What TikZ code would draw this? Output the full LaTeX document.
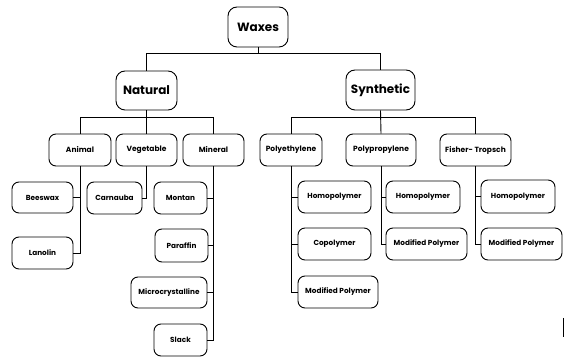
\documentclass[tikz,border=0pt]{standalone}
\usepackage{fontspec}
\setmainfont{Poppins}
\begin{document}
\begin{tikzpicture}[x=1pt,y=-1pt,line width=0.9pt,
  box/.style={draw,rounded corners=7pt,inner sep=0pt,align=center},
  big/.style={box,font=\fontsize{12}{14}\selectfont\bfseries,rounded corners=9pt},
  mid/.style={box,font=\fontsize{7.5}{9}\selectfont\bfseries},
  leaf/.style={box,font=\fontsize{7.3}{9}\selectfont\bfseries}]
\useasboundingbox (0,0) rectangle (566,358);
\node[big,minimum width=60pt,minimum height=40pt] (waxes) at (258,27) {Waxes};
\node[big,minimum width=61pt,minimum height=39pt] (natural) at (146.5,90.5) {Natural};
\node[big,minimum width=69pt,minimum height=40pt] (synthetic) at (380.5,90) {Synthetic};
\node[mid,minimum width=62pt,minimum height=32pt] (animal) at (80,150) {Animal};
\node[mid,minimum width=61pt,minimum height=32pt] (vegetable) at (146.5,150) {Vegetable};
\node[mid,minimum width=61pt,minimum height=32pt] (mineral) at (213.5,150) {Mineral};
\node[mid,minimum width=62pt,minimum height=32pt] (polyeth) at (291,150) {Polyethylene};
\node[mid,minimum width=70pt,minimum height=32pt] (polyprop) at (381,150) {Polypropylene};
\node[mid,minimum width=71pt,minimum height=32pt] (fisher) at (475.5,150) {Fisher- Tropsch};
\node[leaf,minimum width=61pt,minimum height=31pt] (beeswax) at (42.5,197.5) {Beeswax};
\node[leaf,minimum width=61pt,minimum height=32pt] (lanolin) at (42.5,253) {Lanolin};
\node[leaf,minimum width=55pt,minimum height=32pt] (carnauba) at (114.5,198) {Carnauba};
\node[leaf,minimum width=53pt,minimum height=32pt] (montan) at (180.5,198) {Montan};
\node[leaf,minimum width=53pt,minimum height=33pt] (paraffin) at (181.5,245.5) {Paraffin};
\node[leaf,minimum width=76pt,minimum height=31pt] (micro) at (169,292.5) {Microcrystalline};
\node[leaf,minimum width=53pt,minimum height=32pt] (slack) at (180.5,340) {Slack};
\node[leaf,minimum width=73pt,minimum height=32pt] (peh) at (334.5,197) {Homopolymer};
\node[leaf,minimum width=73pt,minimum height=32pt] (pec) at (334.5,244) {Copolymer};
\node[leaf,minimum width=80pt,minimum height=32pt] (pem) at (338,292) {Modified Polymer};
\node[leaf,minimum width=74pt,minimum height=32pt] (pph) at (423,197) {Homopolymer};
\node[leaf,minimum width=81pt,minimum height=32pt] (ppm) at (426.5,244) {Modified Polymer};
\node[leaf,minimum width=74pt,minimum height=33pt] (fth) at (518,196.5) {Homopolymer};
\node[leaf,minimum width=81pt,minimum height=32pt] (ftm) at (521.5,244) {Modified Polymer};
\coordinate (j1) at (0,53);
\coordinate (j2) at (0,117);
% top level
\draw (waxes.south) -- (waxes.south |- j1);
\draw (natural.north) |- (j1 -| synthetic.north) -- (synthetic.north);
% natural
\draw (natural.south) -- (vegetable.north);
\draw (animal.north) |- (j2 -| mineral.north) -- (mineral.north);
% synthetic
\draw (synthetic.south) -- (polyprop.north);
\draw (polyeth.north) |- (j2 -| fisher.north) -- (fisher.north);
% animal
\draw (animal.south) |- (lanolin.east);
\draw (beeswax.east) -- (beeswax.east -| animal.south);
% vegetable
\draw (vegetable.south) |- (carnauba.east);
% mineral
\draw (mineral.south) |- (slack.east);
\draw (montan.east) -- (montan.east -| mineral.south);
\draw (paraffin.east) -- (paraffin.east -| mineral.south);
\draw (micro.east) -- (micro.east -| mineral.south);
% polyethylene
\draw (polyeth.south) |- (pem.west);
\draw (peh.west) -- (peh.west -| polyeth.south);
\draw (pec.west) -- (pec.west -| polyeth.south);
% polypropylene
\draw (polyprop.south) |- (ppm.west);
\draw (pph.west) -- (pph.west -| polyprop.south);
% fisher
\draw (fisher.south) |- (ftm.west);
\draw (fth.west) -- (fth.west -| fisher.south);
% stray mark
\coordinate (m1) at (563,318);
\coordinate (m2) at (563,337);
\draw (m1) -- (m2);
\end{tikzpicture}
\end{document}
